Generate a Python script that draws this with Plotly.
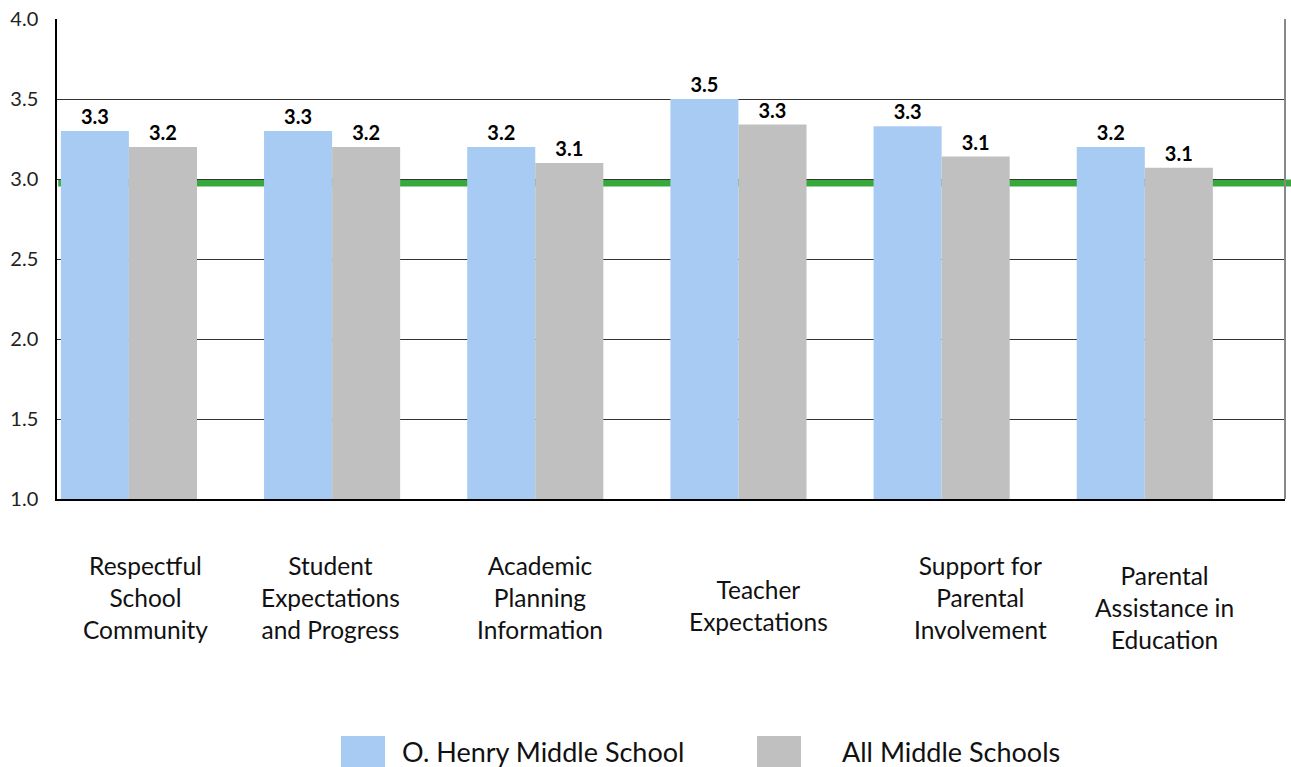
import plotly.graph_objects as go

categories = [
    "Respectful<br>School<br>Community",
    "Student<br>Expectations<br>and Progress",
    "Academic<br>Planning<br>Information",
    "Teacher<br>Expectations",
    "Support for<br>Parental<br>Involvement",
    "Parental<br>Assistance in<br>Education",
]
ohenry = [3.30, 3.30, 3.20, 3.50, 3.33, 3.20]
all_ms = [3.20, 3.20, 3.10, 3.34, 3.14, 3.07]
series_names = ["O. Henry Middle School", "All Middle Schools"]
benchmark = 2.975
y_ticks = [1.0, 1.5, 2.0, 2.5, 3.0, 3.5, 4.0]

BLUE = "#A8CBF4"
GRAY = "#C0C0C0"
FONT = "Lato"

idx = list(range(len(categories)))

fig = go.Figure()
for name, vals, col in [(series_names[0], ohenry, BLUE), (series_names[1], all_ms, GRAY)]:
    fig.add_trace(go.Bar(
        x=idx, y=vals, name=name, marker=dict(color=col, line=dict(width=0)),
        texttemplate="%{y:.1f}", textposition="outside",
        textfont=dict(family=FONT, size=20, color="#000000", weight="bold"),
        cliponaxis=False, showlegend=False, hoverinfo="skip",
    ))

fig.update_layout(
    width=1291, height=767,
    margin=dict(l=57, r=6, t=17, b=268),
    paper_bgcolor="white", plot_bgcolor="white",
    barmode="group", bargap=0.33, bargroupgap=0,
    font=dict(family=FONT, color="#222222"),
    xaxis=dict(range=[-0.354, 5.69], showticklabels=False, showgrid=False,
               showline=True, linecolor="#000000", linewidth=2, zeroline=False,
               ticks=""),
    yaxis=dict(range=[1.0, 4.0], tickvals=y_ticks, ticktext=[f"{v:.1f}" for v in y_ticks],
               showgrid=True, gridcolor="#333333", gridwidth=1, zeroline=False,
               showline=True, linecolor="#000000", linewidth=1.5,
               tickfont=dict(family=FONT, size=20, color="#222222"),
               ticks="", ticklabelstandoff=13),
)

# benchmark line
fig.add_shape(type="line", xref="paper", yref="y", x0=0.001, x1=1.01,
              y0=benchmark, y1=benchmark, line=dict(color="#37A93C", width=7), layer="below")
# right border
fig.add_shape(type="line", xref="paper", yref="paper", x0=1, x1=1, y0=0, y1=1,
              line=dict(color="#888888", width=2))

# category labels
label_px = [145, 330, 540, 758, 980, 1164]
label_py = [598, 598, 598, 606, 598, 608]
pw, ph = 1291 - 57 - 6, 767 - 17 - 268
for cat, px, py in zip(categories, label_px, label_py):
    fig.add_annotation(xref="paper", yref="paper", x=(px - 57) / pw, y=(499 - py) / ph,
                       text=cat, showarrow=False, xanchor="center", yanchor="middle",
                       font=dict(family=FONT, size=24.5, color="#111111"), align="center")

# custom legend
leg = [(341, 400, BLUE, series_names[0]), (757, 840, GRAY, series_names[1])]
for sx, tx, col, name in leg:
    fig.add_shape(type="rect", xref="paper", yref="paper",
                  x0=(sx - 57) / pw, x1=(sx + 44 - 57) / pw,
                  y0=(499 - 781) / ph, y1=(499 - 737) / ph,
                  fillcolor=col, line=dict(width=0))
    fig.add_annotation(xref="paper", yref="paper", x=(tx - 57) / pw, y=(499 - 753) / ph,
                       text=name, showarrow=False, xanchor="left", yanchor="middle",
                       font=dict(family=FONT, size=27, color="#111111"))

fig.write_html("out.html", config={"displayModeBar": False},
               post_script="document.body.style.margin='0';document.body.style.overflow='hidden';")
